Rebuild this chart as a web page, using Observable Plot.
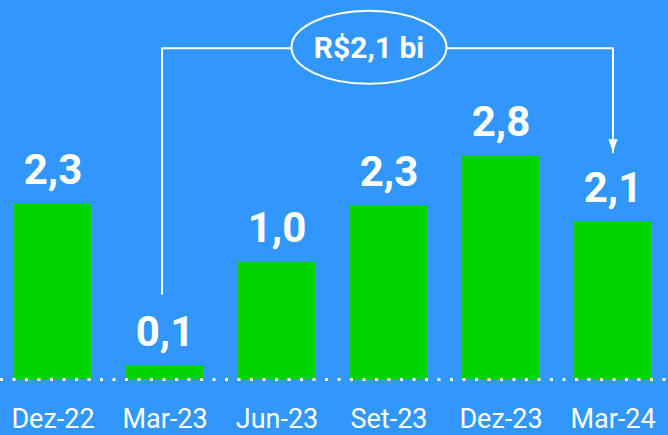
<!DOCTYPE html>
<html>
<head>
<meta charset="utf-8">
<script src="https://cdn.jsdelivr.net/npm/d3@7"></script>
<script src="https://cdn.jsdelivr.net/npm/@observablehq/plot@0.6"></script>
<style>
  html, body { margin: 0; padding: 0; background: #3197fa; }
  #chart svg { display: block; }
</style>
</head>
<body>
<div id="chart"></div>
<script>
// Categories (quarters)
const quarters = ["Dez-22", "Mar-23", "Jun-23", "Set-23", "Dez-23", "Mar-24"];
// Value labels shown above the bars (R$ bi)
const valueLabels = ["2,3", "0,1", "1,0", "2,3", "2,8", "2,1"];
// Bar heights as drawn in the picture (same units as labels, estimated)
const barHeights = [2.2, 0.175, 1.466, 2.175, 2.79, 1.975];

// Annotation: bracket from Mar-23 to Mar-24 with callout
const bracketFrom = "Mar-23";
const bracketTo = "Mar-24";
const bracketLevel = 4.14;     // height of horizontal connector
const bracketFromEnd = 1.07;   // lower end of left leg
const bracketToEnd = 2.84;     // arrow tip
const bracketCenter = "Set-23";
const bracketLabel = "R$2,1 bi";

const BG = "#3197fa";
const GREEN = "#00d400";

const data = quarters.map((q, i) => ({q, h: barHeights[i], label: valueLabels[i]}));

// ellipse symbol
const ellipseSymbol = {
  draw(ctx) {
    const rx = 77.5, ry = 36.5, k = 0.5523;
    ctx.moveTo(-rx, 0);
    ctx.bezierCurveTo(-rx, -ry * k, -rx * k, -ry, 0, -ry);
    ctx.bezierCurveTo(rx * k, -ry, rx, -ry * k, rx, 0);
    ctx.bezierCurveTo(rx, ry * k, rx * k, ry, 0, ry);
    ctx.bezierCurveTo(-rx * k, ry, -rx, ry * k, -rx, 0);
    ctx.closePath();
  }
};
// downward arrowhead, tip at origin
const arrowSymbol = {
  draw(ctx) {
    ctx.moveTo(-4.5, -13);
    ctx.lineTo(4.5, -13);
    ctx.lineTo(0, 0);
    ctx.closePath();
  }
};

const leftLeg = [{x: bracketFrom, y: bracketFromEnd}, {x: bracketFrom, y: bracketLevel}];
const connector = [{x: bracketFrom, y: bracketLevel}, {x: bracketTo, y: bracketLevel}];
const rightLeg = [{x: bracketTo, y: bracketLevel}, {x: bracketTo, y: bracketToEnd}];

const chart = Plot.plot({
  width: 668,
  height: 435,
  marginTop: 0,
  marginBottom: 56,
  marginLeft: 0,
  marginRight: 0,
  style: {background: BG, fontFamily: "Roboto, sans-serif", color: "white"},
  x: {type: "band", domain: quarters, range: [13.5, 651], paddingInner: 0.313, paddingOuter: 0, label: null},
  y: {domain: [0, 379 / 80], axis: null},
  marks: [
    Plot.barY(data, {x: "q", y: "h", fill: GREEN}),
    Plot.ruleY([0], {stroke: "white", strokeWidth: 3, strokeDasharray: "3 9.5"}),
    Plot.text(data, {x: "q", y: "h", text: "label", fill: "white", fontSize: 42, fontWeight: "bold", lineAnchor: "bottom", dy: -20}),
    Plot.axisX({tickSize: 0, tickPadding: 29, fontSize: 27, fill: "white", label: null}),
    // bracket
    Plot.line(leftLeg, {x: "x", y: "y", stroke: "white", strokeWidth: 2, dx: -3}),
    Plot.line(connector, {x: "x", y: "y", stroke: "white", strokeWidth: 2, dx: -1.5}),
    Plot.line(rightLeg, {x: "x", y: "y", stroke: "white", strokeWidth: 2}),
    Plot.dot([{x: bracketTo, y: bracketToEnd}], {x: "x", y: "y", symbol: arrowSymbol, fill: "white", stroke: "none", r: 5}),
    Plot.dot([{x: bracketCenter, y: bracketLevel}], {x: "x", y: "y", symbol: ellipseSymbol, fill: BG, stroke: "white", strokeWidth: 2, r: 10, dx: -20, dy: -1}),
    Plot.text([{x: bracketCenter, y: bracketLevel, t: bracketLabel}], {x: "x", y: "y", text: "t", fill: "white", fontSize: 30, fontWeight: "bold", lineAnchor: "middle", dx: -20})
  ]
});
document.getElementById("chart").appendChild(chart);
</script>
</body>
</html>
